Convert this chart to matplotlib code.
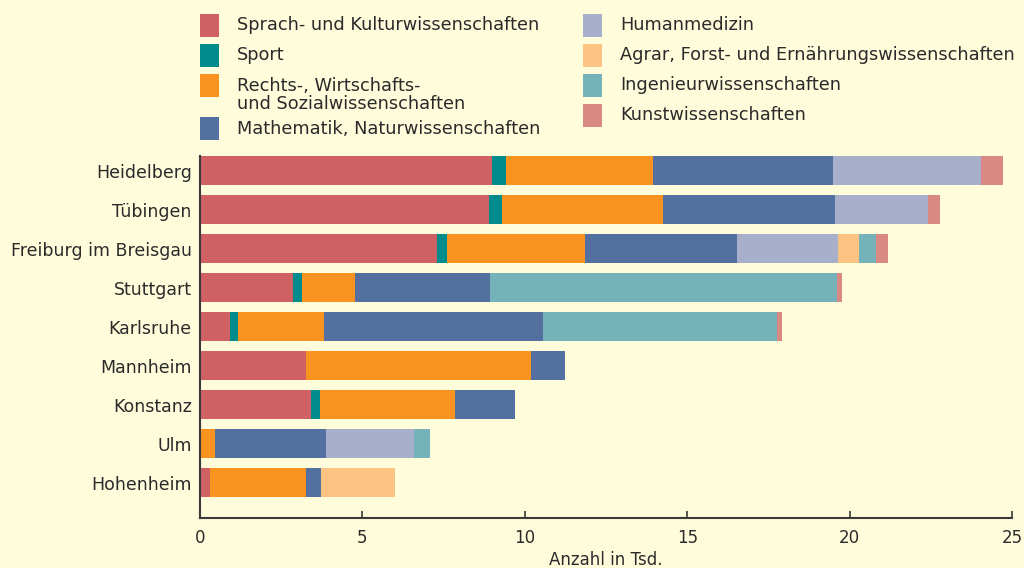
import numpy as np
import matplotlib
matplotlib.use("Agg")
import matplotlib.pyplot as plt
from matplotlib.patches import Rectangle

# -------------------------
# Daten (Anzahl in Tsd.)
# -------------------------

staedte = ["Heidelberg", "Tübingen", "Freiburg im Breisgau", "Stuttgart",
           "Karlsruhe", "Mannheim", "Konstanz", "Ulm", "Hohenheim"]

faecher = ["Sprach- und Kulturwissenschaften",
           "Sport",
           "Rechts-, Wirtschafts-\nund Sozialwissenschaften",
           "Mathematik, Naturwissenschaften",
           "Humanmedizin",
           "Agrar, Forst- und Ernährungswissenschaften",
           "Ingenieurwissenschaften",
           "Kunstwissenschaften"]

sprach    = [8.98, 8.89, 7.29, 2.85, 0.91, 3.25, 3.41, 0.00, 0.32]
sport     = [0.43, 0.40, 0.31, 0.28, 0.25, 0.00, 0.27, 0.00, 0.00]
rechts    = [4.53, 4.96, 4.25, 1.63, 2.65, 6.93, 4.16, 0.45, 2.93]
mathe     = [5.55, 5.30, 4.68, 4.16, 6.74, 1.05, 1.85, 3.42, 0.49]
human     = [4.56, 2.87, 3.12, 0.00, 0.00, 0.00, 0.00, 2.71, 0.00]
agrar     = [0.00, 0.00, 0.64, 0.00, 0.00, 0.00, 0.00, 0.00, 2.25]
ingenieur = [0.00, 0.00, 0.52, 10.69, 7.22, 0.00, 0.00, 0.49, 0.00]
kunst     = [0.68, 0.37, 0.38, 0.16, 0.16, 0.00, 0.00, 0.00, 0.00]

werte = [sprach, sport, rechts, mathe, human, agrar, ingenieur, kunst]

farben = ["#CF6164", "#008C8C", "#F7931E", "#5470A0",
          "#A8AFCB", "#FDC383", "#76B2B9", "#D98884"]

x_ticks = [0, 5, 10, 15, 20, 25]

# -------------------------
# Figur
# -------------------------

hintergrund = "#FFFCDB"
achse_farbe = "#3A3A3A"
text_farbe = "#2A2A2A"

fig = plt.figure(figsize=(10.24, 5.68), dpi=100, facecolor=hintergrund)
ax = fig.add_axes([200 / 1024, 1 - 518 / 568, 812 / 1024, 362 / 568])
ax.set_facecolor(hintergrund)

y = np.arange(len(staedte))
links = np.zeros(len(staedte))
for serie, farbe in zip(werte, farben):
    ax.barh(y, serie, left=links, height=0.744, color=farbe, linewidth=0)
    links = links + np.array(serie)

ax.set_xlim(0, 25)
ax.set_ylim(8.91, -0.372)
ax.set_xticks(x_ticks)
ax.set_xticklabels([str(t) for t in x_ticks])
ax.set_yticks(y)
ax.set_yticklabels(staedte)

for s in ["top", "right"]:
    ax.spines[s].set_visible(False)
for s in ["left", "bottom"]:
    ax.spines[s].set_color(achse_farbe)
    ax.spines[s].set_linewidth(1.5)

ax.tick_params(axis="x", direction="in", length=5, width=1.2,
               color=achse_farbe, labelsize=12, labelcolor=text_farbe, pad=8)
ax.tick_params(axis="y", length=0, labelsize=12.5, labelcolor=text_farbe, pad=6)

ax.set_xlabel("Anzahl in Tsd.", fontsize=12, color=text_farbe, labelpad=3)

# -------------------------
# Legende (zwei Spalten, manuell)
# -------------------------

# (x links, y oben der Farbfläche) in Pixel
pos = [(200, 14), (200, 44), (200, 74), (200, 117),
       (583, 14), (583, 44), (583, 74), (583, 104)]
zeilenhoehe = 18.5

for name, farbe, (px, py) in zip(faecher, farben, pos):
    fig.patches.append(Rectangle((px / 1024, 1 - (py + 23) / 568),
                                 19 / 1024, 23 / 568,
                                 transform=fig.transFigure,
                                 facecolor=farbe, edgecolor="none"))
    n = name.count("\n")
    mitte = py + 11.5 + n * zeilenhoehe / 2
    fig.text((px + 37) / 1024, 1 - mitte / 568, name,
             ha="left", va="center", fontsize=12.8, color=text_farbe,
             linespacing=1.0)

fig.savefig("out.png", dpi=100, facecolor=hintergrund)
